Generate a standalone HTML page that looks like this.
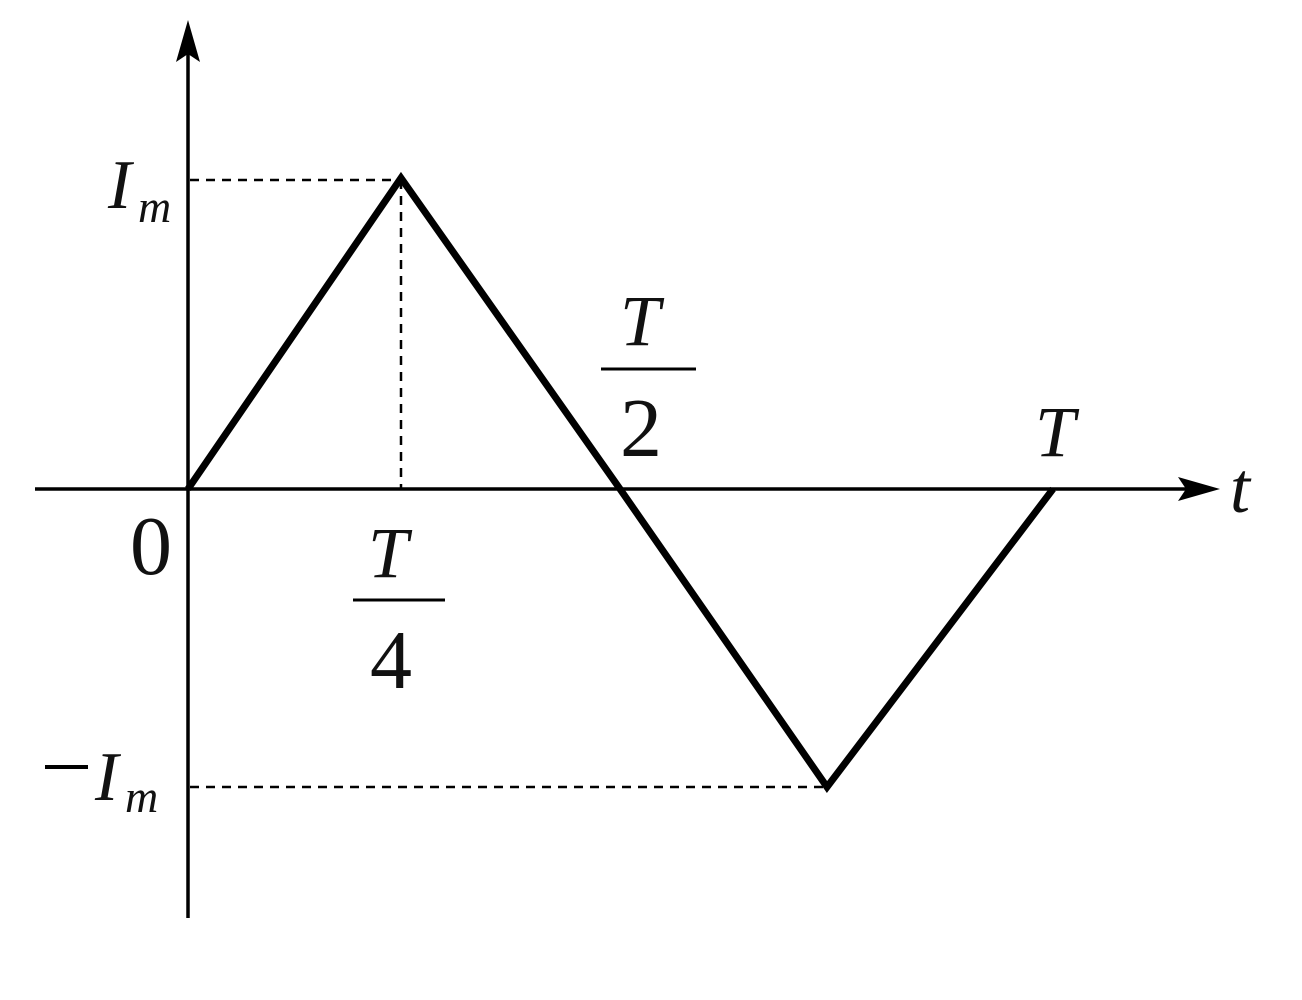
<!DOCTYPE html>
<html><head><style>body{margin:0;background:#fff}svg{display:block}text{font-family:"Liberation Serif",serif;fill:#111}</style></head>
<body>
<svg width="1302" height="1000" viewBox="0 0 1302 1000">
<line x1="188" y1="40" x2="188" y2="918" stroke="#000" stroke-width="3.5"/>
<path d="M188 20 L200 62 L188 54 L176 62 Z" fill="#000"/>
<line x1="35" y1="489" x2="1205" y2="489" stroke="#000" stroke-width="3.5"/>
<path d="M1220 489 L1178 501 L1186 489 L1178 477 Z" fill="#000"/>
<g stroke="#000" stroke-width="2.5" stroke-dasharray="9,7" fill="none">
<line x1="190" y1="180" x2="401" y2="180"/>
<line x1="401" y1="180" x2="401" y2="489"/>
<line x1="190" y1="787" x2="827" y2="787"/>
</g>
<polyline points="188,489 401,178 620,489 827,787 1053,489" fill="none" stroke="#000" stroke-width="7" stroke-linejoin="miter"/>
<text x="108" y="208" font-size="70" font-style="italic">I</text>
<text x="138" y="222" font-size="46" font-style="italic">m</text>
<text x="130" y="574" font-size="84">0</text>
<text x="368" y="577" font-size="72" font-style="italic">T</text>
<line x1="353" y1="600" x2="445" y2="600" stroke="#000" stroke-width="3"/>
<text x="370" y="688" font-size="84">4</text>
<text x="620" y="345" font-size="72" font-style="italic">T</text>
<line x1="601" y1="369" x2="696" y2="369" stroke="#000" stroke-width="3"/>
<text x="620" y="456" font-size="84">2</text>
<text x="1035" y="456" font-size="72" font-style="italic">T</text>
<text x="1230" y="512" font-size="72" font-style="italic">t</text>
<line x1="45" y1="767" x2="88" y2="767" stroke="#000" stroke-width="4"/>
<text x="95" y="800" font-size="70" font-style="italic">I</text>
<text x="125" y="812" font-size="46" font-style="italic">m</text>
</svg>
</body></html>
